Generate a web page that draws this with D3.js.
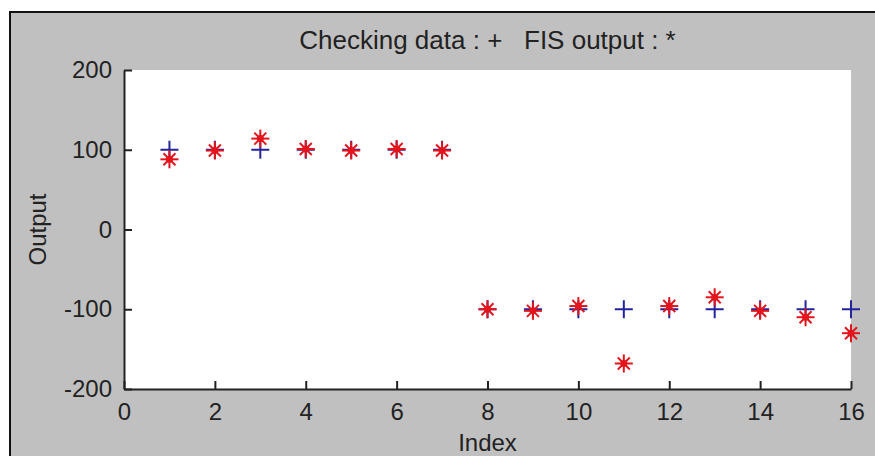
<!DOCTYPE html>
<html>
<head>
<meta charset="utf-8">
<script src="https://cdn.jsdelivr.net/npm/d3@7"></script>
<style>
  html, body { margin: 0; padding: 0; background: #ffffff; overflow: hidden; }
  svg { display: block; }
  text { font-family: "Liberation Sans", Arial, sans-serif; fill: #222; }
</style>
</head>
<body>
<svg id="chart" width="875" height="456"></svg>
<script>
const indices = [1, 2, 3, 4, 5, 6, 7, 8, 9, 10, 11, 12, 13, 14, 15, 16];
const checkingData = [100, 100, 100, 100, 100, 100, 100, -100, -100, -100, -100, -100, -100, -100, -100, -100];
const fisOutput = [88, 99, 114, 101, 99, 101, 99, -100, -102, -96, -168, -96, -85, -102, -110, -130];
const xTicks = [0, 2, 4, 6, 8, 10, 12, 14, 16];
const yTicks = [-200, -100, 0, 100, 200];
const titleText = "Checking data : +   FIS output : *";
const xLabel = "Index";
const yLabel = "Output";

const W = 875, H = 456;
const plot = { left: 124, right: 851, top: 70, bottom: 389 };

const svg = d3.select("#chart");

// figure background with frame (right/bottom edges lie outside the view)
svg.append("rect")
  .attr("x", 10).attr("y", 12)
  .attr("width", W + 40).attr("height", H + 40)
  .attr("fill", "#c0c0c0")
  .attr("stroke", "#111").attr("stroke-width", 2);

// white axes area
svg.append("rect")
  .attr("x", plot.left).attr("y", plot.top)
  .attr("width", plot.right - plot.left).attr("height", plot.bottom - plot.top)
  .attr("fill", "#ffffff");

const x = d3.scaleLinear().domain([0, 16]).range([plot.left, plot.right]);
const y = d3.scaleLinear().domain([-200, 200]).range([plot.bottom, plot.top]);

// markers: blue plus
const plusSize = 9;
const gPlus = svg.append("g");
indices.forEach((d, i) => {
  const cx = x(d), cy = y(checkingData[i]);
  gPlus.append("line").attr("x1", cx - plusSize).attr("x2", cx + plusSize)
    .attr("y1", cy).attr("y2", cy);
  gPlus.append("line").attr("x1", cx).attr("x2", cx)
    .attr("y1", cy - plusSize).attr("y2", cy + plusSize);
});
gPlus.selectAll("line").attr("stroke", "#23239e").attr("stroke-width", 2);

// markers: red asterisk
const s = 9, ds = 6;
const gStar = svg.append("g");
indices.forEach((d, i) => {
  const cx = x(d), cy = y(fisOutput[i]);
  gStar.append("line").attr("x1", cx - s).attr("x2", cx + s).attr("y1", cy).attr("y2", cy);
  gStar.append("line").attr("x1", cx).attr("x2", cx).attr("y1", cy - s).attr("y2", cy + s);
  gStar.append("line").attr("x1", cx - ds).attr("x2", cx + ds).attr("y1", cy - ds).attr("y2", cy + ds);
  gStar.append("line").attr("x1", cx - ds).attr("x2", cx + ds).attr("y1", cy + ds).attr("y2", cy - ds);
  gStar.append("circle").attr("cx", cx).attr("cy", cy).attr("r", 3.5).attr("fill", "#e3141c");
});
gStar.selectAll("line").attr("stroke", "#e3141c").attr("stroke-width", 2);

// axes
const fmt = d => String(d);
const xAxis = d3.axisBottom(x).tickValues(xTicks).tickFormat(fmt)
  .tickSizeInner(-8).tickSizeOuter(0).tickPadding(14);
const yAxis = d3.axisLeft(y).tickValues(yTicks).tickFormat(fmt)
  .tickSizeInner(-8).tickSizeOuter(0).tickPadding(12);

const gx = svg.append("g").attr("transform", `translate(0,${plot.bottom})`).call(xAxis);
const gy = svg.append("g").attr("transform", `translate(${plot.left},0)`).call(yAxis);

[gx, gy].forEach(g => {
  g.select(".domain").attr("stroke", "#222").attr("stroke-width", 2);
  g.selectAll(".tick line").attr("stroke", "#222").attr("stroke-width", 2);
  g.selectAll(".tick text").attr("font-size", 24).attr("fill", "#222")
    .attr("font-family", "'Liberation Sans', Arial, sans-serif");
});

// title
svg.append("text")
  .attr("x", (plot.left + plot.right) / 2).attr("y", 49)
  .attr("text-anchor", "middle").attr("font-size", 26)
  .style("white-space", "pre")
  .text(titleText);

// x label
svg.append("text")
  .attr("x", (plot.left + plot.right) / 2).attr("y", 451)
  .attr("text-anchor", "middle").attr("font-size", 24)
  .text(xLabel);

// y label
svg.append("text")
  .attr("transform", `translate(46,${(plot.top + plot.bottom) / 2}) rotate(-90)`)
  .attr("text-anchor", "middle").attr("font-size", 24)
  .text(yLabel);
</script>
</body>
</html>
